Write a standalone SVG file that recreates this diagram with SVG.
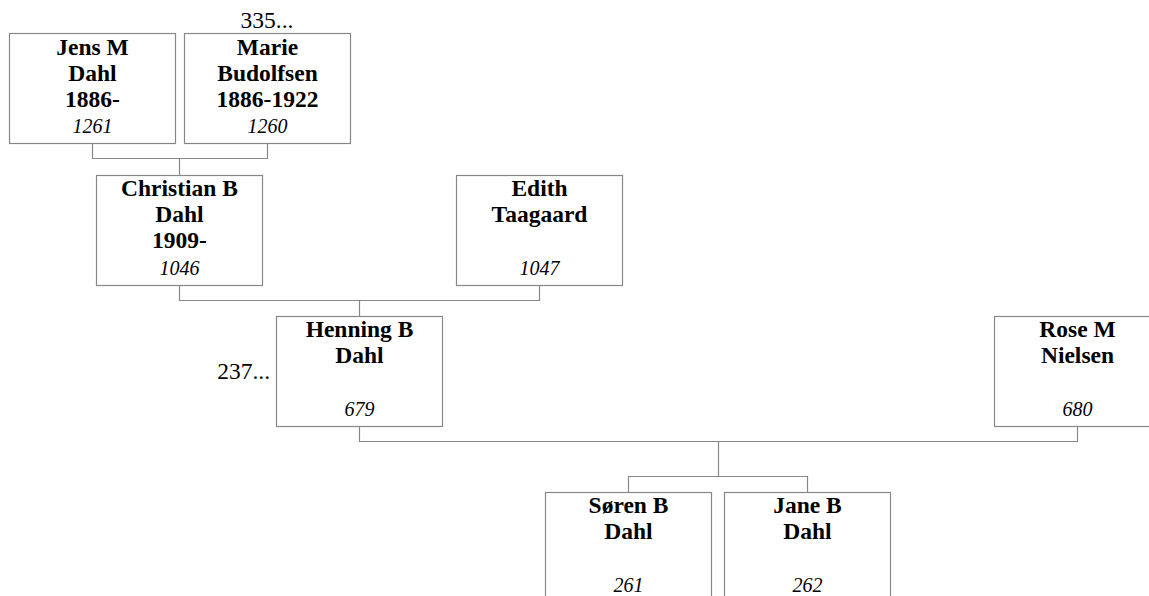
<svg xmlns="http://www.w3.org/2000/svg" width="1149" height="596" viewBox="0 0 1149 596">
<style>
.box{fill:#fff;stroke:#888;stroke-width:1.2}
.con{fill:none;stroke:#888;stroke-width:1.2}
.nm{font-family:"Liberation Serif","Times New Roman",serif;font-weight:bold;font-size:23.5px;text-anchor:middle;fill:#000}
.id{font-family:"Liberation Serif","Times New Roman",serif;font-style:italic;font-size:20px;text-anchor:middle;fill:#000}
.more{font-family:"Liberation Serif","Times New Roman",serif;font-size:23.5px;fill:#000}
</style>
<rect width="1149" height="596" fill="#fff"/>
<g id="connectors">
<path class="con" d="M92.5 143.5V158.5H267.5V143.5M179.5 158.5V175.5"/>
<path class="con" d="M179.5 285.5V300.5H539.5V285.5M359.5 300.5V316.5"/>
<path class="con" d="M359.5 426.5V441.5H1077.5V426.5M718.5 441.5V476.5M628.5 492.5V476.5H807.5V492.5"/>
</g>
<g id="n1261">
<rect class="box" x="9.5" y="33.5" width="166" height="110"/>
<text class="nm" x="92.5" y="55">Jens M</text>
<text class="nm" x="92.5" y="81">Dahl</text>
<text class="nm" x="92.5" y="107">1886-</text>
<text class="id" x="92.5" y="133">1261</text>
</g>
<g id="n1260">
<rect class="box" x="184.5" y="33.5" width="166" height="110"/>
<text class="nm" x="267.5" y="55">Marie</text>
<text class="nm" x="267.5" y="81">Budolfsen</text>
<text class="nm" x="267.5" y="107">1886-1922</text>
<text class="id" x="267.5" y="133">1260</text>
<text class="more" x="267" y="28" text-anchor="middle">335...</text>
</g>
<g id="n1046">
<rect class="box" x="96.5" y="175.5" width="166" height="110"/>
<text class="nm" x="179.5" y="196">Christian B</text>
<text class="nm" x="179.5" y="222">Dahl</text>
<text class="nm" x="179.5" y="248">1909-</text>
<text class="id" x="179.5" y="275">1046</text>
</g>
<g id="n1047">
<rect class="box" x="456.5" y="175.5" width="166" height="110"/>
<text class="nm" x="539.5" y="196">Edith</text>
<text class="nm" x="539.5" y="222">Taagaard</text>
<text class="id" x="539.5" y="275">1047</text>
</g>
<g id="n679">
<rect class="box" x="276.5" y="316.5" width="166" height="110"/>
<text class="nm" x="359.5" y="337">Henning B</text>
<text class="nm" x="359.5" y="363">Dahl</text>
<text class="id" x="359.5" y="416">679</text>
<text class="more" x="270" y="379" text-anchor="end">237...</text>
</g>
<g id="n680">
<rect class="box" x="994.5" y="316.5" width="166" height="110"/>
<text class="nm" x="1077.5" y="337">Rose M</text>
<text class="nm" x="1077.5" y="363">Nielsen</text>
<text class="id" x="1077.5" y="416">680</text>
</g>
<g id="n261">
<rect class="box" x="545.5" y="492.5" width="166" height="110"/>
<text class="nm" x="628.5" y="513">Søren B</text>
<text class="nm" x="628.5" y="539">Dahl</text>
<text class="id" x="628.5" y="592">261</text>
</g>
<g id="n262">
<rect class="box" x="724.5" y="492.5" width="166" height="110"/>
<text class="nm" x="807.5" y="513">Jane B</text>
<text class="nm" x="807.5" y="539">Dahl</text>
<text class="id" x="807.5" y="592">262</text>
</g>
</svg>
